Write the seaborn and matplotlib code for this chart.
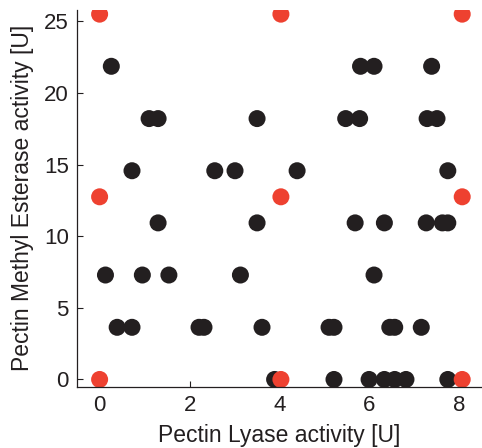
import pandas as pd
import matplotlib.pyplot as plt
import seaborn as sns

# black points: measured samples, grouped by PME level
pl_black = [0.26, 5.80, 6.10, 7.38,
            1.10, 1.30, 3.50, 5.47, 5.78, 7.28, 7.50,
            0.72, 2.56, 3.01, 4.39, 7.74,
            1.30, 3.50, 5.68, 6.33, 7.26, 7.62, 7.74,
            0.13, 0.95, 1.54, 3.13, 6.10,
            0.39, 0.72, 2.21, 2.32, 3.61, 5.10, 5.21, 6.45, 6.56, 7.15,
            3.89, 5.21, 5.99, 6.33, 6.56, 6.81, 7.74]
pme_black = [21.86] * 4 + [18.21] * 7 + [14.57] * 5 + [10.93] * 7 \
    + [7.29] * 5 + [3.64] * 10 + [0.0] * 7

# red points: design corners
pl_red = [0.0, 4.03, 8.06, 0.0, 4.03, 8.06, 0.0, 4.03, 8.06]
pme_red = [25.5, 25.5, 25.5, 12.75, 12.75, 12.75, 0.0, 0.0, 0.0]

x_ticks = [0, 2, 4, 6, 8]
y_ticks = [0, 5, 10, 15, 20, 25]

df = pd.concat([
    pd.DataFrame({'PL': pl_black, 'PME': pme_black, 'Group': 'sample'}),
    pd.DataFrame({'PL': pl_red, 'PME': pme_red, 'Group': 'corner'}),
], ignore_index=True)

sns.set_style('ticks')
plt.rcParams['font.family'] = ['Liberation Sans', 'DejaVu Sans']

fig = plt.figure(figsize=(4.82, 4.48), dpi=100)
ax = fig.add_axes([0.160, 0.137, 0.840, 0.841])

sns.scatterplot(
    data=df,
    x='PL',
    y='PME',
    hue='Group',
    palette={'sample': '#231f20', 'corner': '#ee4130'},
    s=150,
    edgecolor='none',
    linewidth=0,
    legend=False,
    ax=ax
)

ax.set_xlim(-0.5, 8.5)
ax.set_ylim(-0.5, 25.8)
ax.set_xticks(x_ticks)
ax.set_yticks(y_ticks)
ax.tick_params(direction='in', length=4, width=0.8, colors='#231f20',
               labelsize=16, labelcolor='#231f20', pad=6)
for side in ['top', 'right']:
    ax.spines[side].set_visible(False)
for side in ['left', 'bottom']:
    ax.spines[side].set_linewidth(0.9)
    ax.spines[side].set_color('#231f20')

ax.set_xlabel('Pectin Lyase activity [U]', fontsize=16.5, color='#231f20', labelpad=6)
ax.set_ylabel('Pectin Methyl Esterase activity [U]', fontsize=16.5, color='#231f20', labelpad=7)

plt.savefig('out.png', dpi=100)
plt.close()
